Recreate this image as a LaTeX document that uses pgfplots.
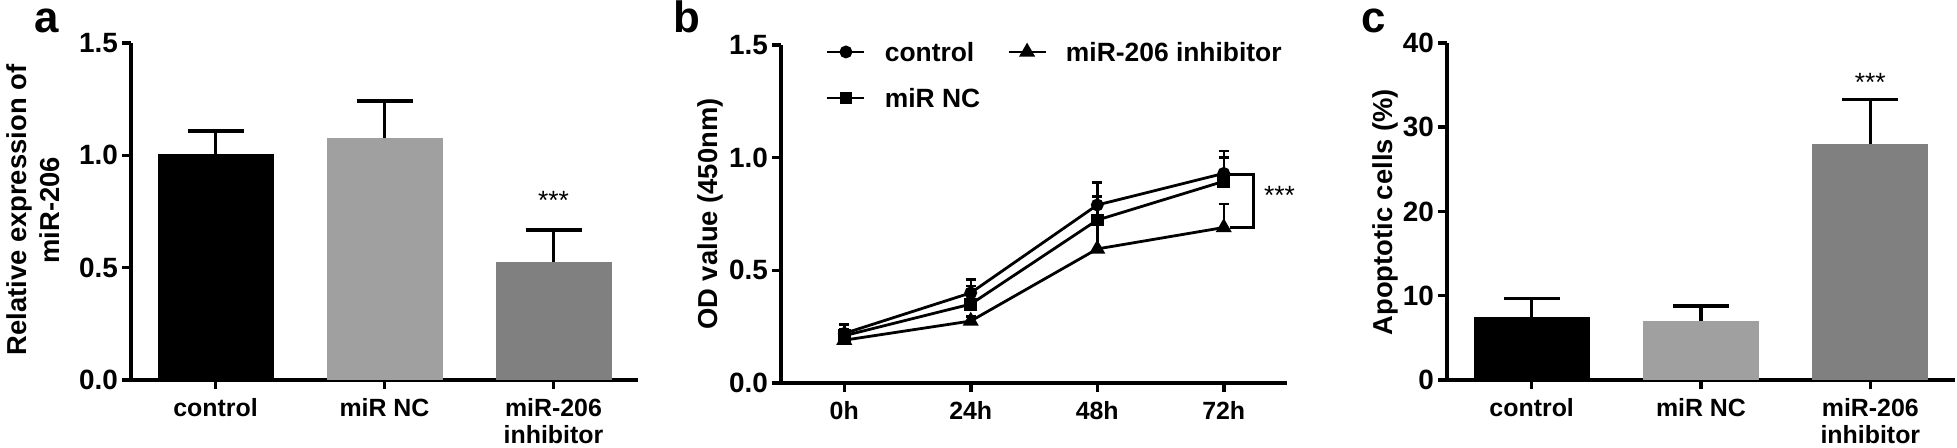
\documentclass[border=0pt]{standalone}
\usepackage{fontspec}
\setmainfont{Liberation Sans}
\usepackage{pgfplots}
\pgfplotsset{compat=1.18}
\definecolor{gLight}{RGB}{160,160,160}
\definecolor{gDark}{RGB}{128,128,128}
\pgfplotsset{
  panel/.style={
    scale only axis,
    axis x line*=bottom, axis y line*=left,
    axis line style={-, line width=3.5bp, black},
    tick align=outside,
    major tick length=9bp,
    tick style={line width=3.5bp, black},
    xticklabel style={font=\fontsize{25}{27}\selectfont\bfseries, align=center, anchor=north, inner sep=0pt, yshift=-9bp},
    yticklabel style={font=\fontsize{28}{30}\selectfont\bfseries, anchor=east, inner sep=0pt, xshift=-4bp},
    /pgf/number format/assume math mode=true,
    ymin=0,
    clip=false,
    every axis y label/.style={rotate=90, anchor=center, align=center,
      font=\fontsize{27.5}{34}\selectfont\bfseries},
  },
  barerr/.style={ybar, bar width=116bp, draw=none,
    error bars/y dir=plus, error bars/y explicit,
    error bars/error bar style={line width=3.5bp, black},
    error bars/error mark options={rotate=90, mark size=28bp, line width=3.5bp, black}},
  lineerr/.style={black, line width=2.8bp, mark options={solid, fill=black},
    error bars/y dir=plus, error bars/y explicit,
    error bars/error bar style={line width=2.5bp, black},
    error bars/error mark options={rotate=90, mark size=5bp, line width=2.5bp, black}},
}
\begin{document}
\begin{tikzpicture}
\useasboundingbox (0,0) rectangle (1957bp,448bp);
% ---------------- panel a ----------------
\begin{axis}[panel, at={(131bp,68bp)}, anchor=south west,
  width=507bp, height=337bp,
  xmin=-0.5, xmax=2.5, ymax=1.5,
  xtick={0,1,2}, xticklabels={control, miR NC, {miR-206\\inhibitor}},
  ytick={0,0.5,1,1.5},
  yticklabel style={/pgf/number format/.cd, fixed, fixed zerofill, precision=1},
  ylabel={Relative expression of\\miR-206},
  ylabel style={at={(axis description cs:-0.193,0.504)}},
]
\addplot[barerr, fill=black] coordinates {(0,1.006) +- (0,0.102)};
\addplot[barerr, fill=gLight] coordinates {(1,1.077) +- (0,0.165)};
\addplot[barerr, fill=gDark] coordinates {(2,0.525) +- (0,0.143)};
\node[anchor=base, font=\fontsize{26.5}{28}\selectfont] at (axis cs:2,0.757) {***};
\end{axis}
% ---------------- panel b ----------------
\begin{axis}[panel, at={(781bp,65bp)}, anchor=south west,
  width=506bp, height=338bp,
  xmin=-0.5, xmax=3.5, ymax=1.5,
  xtick={0,1,2,3}, xticklabels={0h,24h,48h,72h},
  ytick={0,0.5,1,1.5},
  yticklabel style={/pgf/number format/.cd, fixed, fixed zerofill, precision=1},
  ylabel={OD value (450nm)},
  ylabel style={at={(axis description cs:-0.140,0.5)}},
  legend columns=2, transpose legend,
  legend cell align=left,
  legend style={at={(0.089,1.009)}, anchor=north west, draw=none, fill=none,
    inner sep=0pt, outer sep=0pt, column sep=19bp, row sep=26bp,
    nodes={inner sep=0pt, text height=20bp, text depth=0pt},
    font=\fontsize{26.5}{28}\selectfont\bfseries,
    /tikz/every even column/.append style={column sep=27bp}},
  legend image code/.code={\draw[mark repeat=2,mark phase=2,#1] plot coordinates {(0bp,0bp)(18.5bp,0bp)(37bp,0bp)};},
]
\addplot[lineerr, mark=*, mark size=5bp] coordinates {
  (0,0.22) +- (0,0.04)
  (1,0.40) +- (0,0.06)
  (2,0.79) +- (0,0.10)
  (3,0.93) +- (0,0.10)
};
\addlegendentry{control}
\addplot[lineerr, mark=square*, mark size=5bp] coordinates {
  (0,0.21) +- (0,0.03)
  (1,0.35) +- (0,0.08)
  (2,0.723) +- (0,0.105)
  (3,0.895) +- (0,0.105)
};
\addlegendentry{miR NC}
\addplot[lineerr, mark=triangle*, mark size=6.5bp] coordinates {
  (0,0.19) +- (0,0.02)
  (1,0.275) +- (0,0.02)
  (2,0.595) +- (0,0.12)
  (3,0.69) +- (0,0.105)
};
\addlegendentry{miR-206 inhibitor}
\draw[line width=2.8bp] (axis cs:3.05,0.927) -| (axis cs:3.235,0.69) -- (axis cs:3.05,0.69);
\node[anchor=base, font=\fontsize{26.5}{28}\selectfont] at (axis cs:3.44,0.79) {***};
\end{axis}
% ---------------- panel c ----------------
\begin{axis}[panel, at={(1447bp,68bp)}, anchor=south west,
  width=508bp, height=337bp,
  xmin=-0.5, xmax=2.5, ymax=40,
  xtick={0,1,2}, xticklabels={control, miR NC, {miR-206\\inhibitor}},
  ytick={0,10,20,30,40},
  ylabel={Apoptotic cells (\%)},
  ylabel style={at={(axis description cs:-0.122,0.498)}},
]
\addplot[barerr, fill=black] coordinates {(0,7.46) +- (0,2.24)};
\addplot[barerr, fill=gLight] coordinates {(1,7.0) +- (0,1.8)};
\addplot[barerr, fill=gDark] coordinates {(2,28.0) +- (0,5.3)};
\node[anchor=base, font=\fontsize{26.5}{28}\selectfont] at (axis cs:2,34.3) {***};
\end{axis}
% panel letters
\node[anchor=base west, inner sep=0pt, font=\fontsize{44}{46}\selectfont\bfseries] at (34bp,415bp) {a};
\node[anchor=base west, inner sep=0pt, font=\fontsize{44}{46}\selectfont\bfseries] at (673bp,415bp) {b};
\node[anchor=base west, inner sep=0pt, font=\fontsize{44}{46}\selectfont\bfseries] at (1361bp,415bp) {c};
\end{tikzpicture}
\end{document}
